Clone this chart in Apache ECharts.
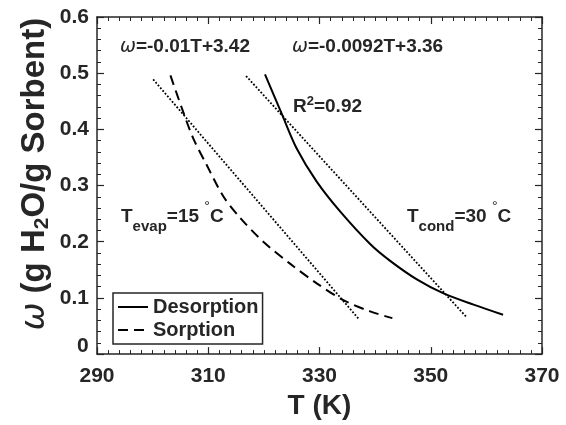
<!DOCTYPE html>
<html>
<head>
<meta charset="utf-8">
<script src="https://cdn.jsdelivr.net/npm/echarts@6/dist/echarts.min.js"></script>
<style>
    html, body { margin: 0; padding: 0; background: #fff; }
    #chart { width: 566px; height: 425px; }
</style>
</head>
<body>
<div id="chart"></div>
<script>
// 曲线数据 [T (K), ω]
const desorption = [
    [320.2, 0.498], [323.2, 0.428], [325.9, 0.366], [329.5, 0.307],
    [333.7, 0.254], [339.1, 0.196], [342.7, 0.166], [347.5, 0.133],
    [352.3, 0.108], [357.7, 0.088], [363.0, 0.070]
]
const sorption = [
    [303.2, 0.496], [305.5, 0.431], [307.3, 0.384], [309.7, 0.337],
    [312.7, 0.281], [315.7, 0.243], [320.0, 0.199], [324.7, 0.161],
    [329.5, 0.126], [334.3, 0.096], [339.1, 0.076], [343.1, 0.064]
]
// 线性拟合（点线）
const fitSorption = [[300.1, 0.489], [337.1, 0.062]]
const fitDesorption = [[316.8, 0.495], [356.5, 0.065]]

const xTickLabels = ['290', '310', '330', '350', '370']
const yTickLabels = ['0', '0.1', '0.2', '0.3', '0.4', '0.5', '0.6']

const font = "'Liberation Sans', Arial, sans-serif"
const ink = '#262626'

const chart = echarts.init(document.getElementById('chart'))

// 坐标轴公共设置
function boxAxis(extra) {
    return Object.assign({
        type: 'value',
        axisLine: { show: true, onZero: false, lineStyle: { color: ink, width: 1.5 } },
        axisTick: { show: true, inside: true, length: 7, lineStyle: { color: ink, width: 1.2 } },
        splitLine: { show: false }
    }, extra)
}

const option = {
    animation: false,
    grid: { left: 97, right: 24, top: 17, bottom: 67 },
    legend: {
        data: ['Desorption', 'Sorption'],
        orient: 'vertical',
        left: 113,
        top: 293,
        padding: 4,
        itemGap: 3,
        itemWidth: 30,
        itemHeight: 14,
        borderColor: ink,
        borderWidth: 1.5,
        borderRadius: 0,
        itemStyle: { opacity: 0 },
        textStyle: { fontSize: 20, fontWeight: 'bold', color: ink, fontFamily: font }
    },
    xAxis: [
        boxAxis({
            min: 290, max: 370, interval: 20,
            minorTick: { show: true, splitNumber: 10, length: 4, lineStyle: { color: ink, width: 1 } },
            axisLabel: {
                margin: 12,
                fontSize: 21, fontWeight: 'bold', color: ink, fontFamily: font,
                formatter: v => xTickLabels[Math.round((v - 290) / 20)]
            },
            name: 'T (K)',
            nameLocation: 'middle',
            nameGap: 28,
            nameTextStyle: { fontSize: 28, fontWeight: 'bold', color: ink, fontFamily: font }
        }),
        boxAxis({
            position: 'top',
            min: 290, max: 370, interval: 20,
            minorTick: { show: true, splitNumber: 10, length: 4, lineStyle: { color: ink, width: 1 } },
            axisLabel: { show: false }
        })
    ],
    yAxis: [
        boxAxis({
            min: 0, max: 0.6, interval: 0.1,
            minorTick: { show: true, splitNumber: 5, length: 4, lineStyle: { color: ink, width: 1 } },
            axisLabel: {
                margin: 8,
                fontSize: 21, fontWeight: 'bold', color: ink, fontFamily: font,
                formatter: v => {
                    const i = Math.round(v * 10)
                    return i === 0 ? '{z|' + yTickLabels[0] + '}{h| }' : yTickLabels[i]
                },
                rich: {
                    z: { fontSize: 21, fontWeight: 'bold', color: ink, fontFamily: font, lineHeight: 21, verticalAlign: 'top' },
                    h: { fontSize: 1, lineHeight: 36 }
                }
            }
        }),
        boxAxis({
            position: 'right',
            min: 0, max: 0.6, interval: 0.1,
            minorTick: { show: true, splitNumber: 5, length: 4, lineStyle: { color: ink, width: 1 } },
            axisLabel: { show: false }
        })
    ],
    series: [
        {
            name: 'Desorption',
            type: 'line',
            data: desorption,
            smooth: 0.3,
            symbol: 'none',
            lineStyle: { color: '#000', width: 2, type: 'solid' },
            itemStyle: { color: '#000' }
        },
        {
            name: 'Sorption',
            type: 'line',
            data: sorption,
            smooth: 0.3,
            symbol: 'none',
            lineStyle: { color: '#000', width: 2, type: [10, 6] },
            itemStyle: { color: '#000' }
        },
        {
            name: 'fitSorption',
            type: 'line',
            data: fitSorption,
            symbol: 'none',
            lineStyle: { color: '#000', width: 1.8, type: [1.8, 1.8] }
        },
        {
            name: 'fitDesorption',
            type: 'line',
            data: fitDesorption,
            symbol: 'none',
            lineStyle: { color: '#000', width: 1.8, type: [1.8, 1.8] }
        }
    ],
    graphic: [
        {
            // 纵轴标题
            type: 'text',
            x: 35, y: 174,
            rotation: Math.PI / 2,
            style: {
                text: '{w|ω} (g H{s|2}O/g Sorbent)',
                align: 'center', verticalAlign: 'middle',
                fontSize: 33, fontWeight: 'bold', fill: ink, fontFamily: font, lineHeight: 36,
                rich: {
                    w: { fontSize: 33, fontStyle: 'italic', fontWeight: 'normal', fontFamily: "'DejaVu Sans', sans-serif", fill: ink, lineHeight: 36, verticalAlign: 'middle' },
                    s: { fontSize: 21, fontWeight: 'bold', fill: ink, fontFamily: font, lineHeight: 21, verticalAlign: 'bottom' }
                }
            }
        },
        {
            type: 'text', x: 120, y: 47,
            style: {
                text: '{w|ω}=-0.01T+3.42',
                align: 'left', verticalAlign: 'middle',
                fontSize: 19, fontWeight: 'bold', fill: ink, fontFamily: font,
                rich: { w: { fontSize: 19, fontStyle: 'italic', fontWeight: 'normal', fontFamily: "'DejaVu Sans', sans-serif", fill: ink } }
            }
        },
        {
            type: 'text', x: 292, y: 47,
            style: {
                text: '{w|ω}=-0.0092T+3.36',
                align: 'left', verticalAlign: 'middle',
                fontSize: 19, fontWeight: 'bold', fill: ink, fontFamily: font,
                rich: { w: { fontSize: 19, fontStyle: 'italic', fontWeight: 'normal', fontFamily: "'DejaVu Sans', sans-serif", fill: ink } }
            }
        },
        {
            type: 'text', x: 293, y: 107,
            style: {
                text: 'R{p|2}=0.92',
                align: 'left', verticalAlign: 'middle',
                fontSize: 19, fontWeight: 'bold', fill: ink, fontFamily: font, lineHeight: 25,
                rich: { p: { fontSize: 13, fontWeight: 'bold', fill: ink, fontFamily: font, lineHeight: 13, verticalAlign: 'top' } }
            }
        },
        {
            type: 'text', x: 121, y: 217,
            style: {
                text: 'T{b|evap}=15 {p|°}C',
                align: 'left', verticalAlign: 'middle',
                fontSize: 19, fontWeight: 'bold', fill: ink, fontFamily: font, lineHeight: 34,
                rich: {
                    b: { fontSize: 15, fontWeight: 'bold', fill: ink, fontFamily: font, lineHeight: 15, verticalAlign: 'bottom' },
                    p: { fontSize: 14, fontWeight: 'normal', fill: ink, fontFamily: font, lineHeight: 26, verticalAlign: 'top' }
                }
            }
        },
        {
            type: 'text', x: 407, y: 217,
            style: {
                text: 'T{b|cond}=30 {p|°}C',
                align: 'left', verticalAlign: 'middle',
                fontSize: 19, fontWeight: 'bold', fill: ink, fontFamily: font, lineHeight: 34,
                rich: {
                    b: { fontSize: 15, fontWeight: 'bold', fill: ink, fontFamily: font, lineHeight: 15, verticalAlign: 'bottom' },
                    p: { fontSize: 14, fontWeight: 'normal', fill: ink, fontFamily: font, lineHeight: 26, verticalAlign: 'top' }
                }
            }
        }
    ]
}

chart.setOption(option)
</script>
</body>
</html>
